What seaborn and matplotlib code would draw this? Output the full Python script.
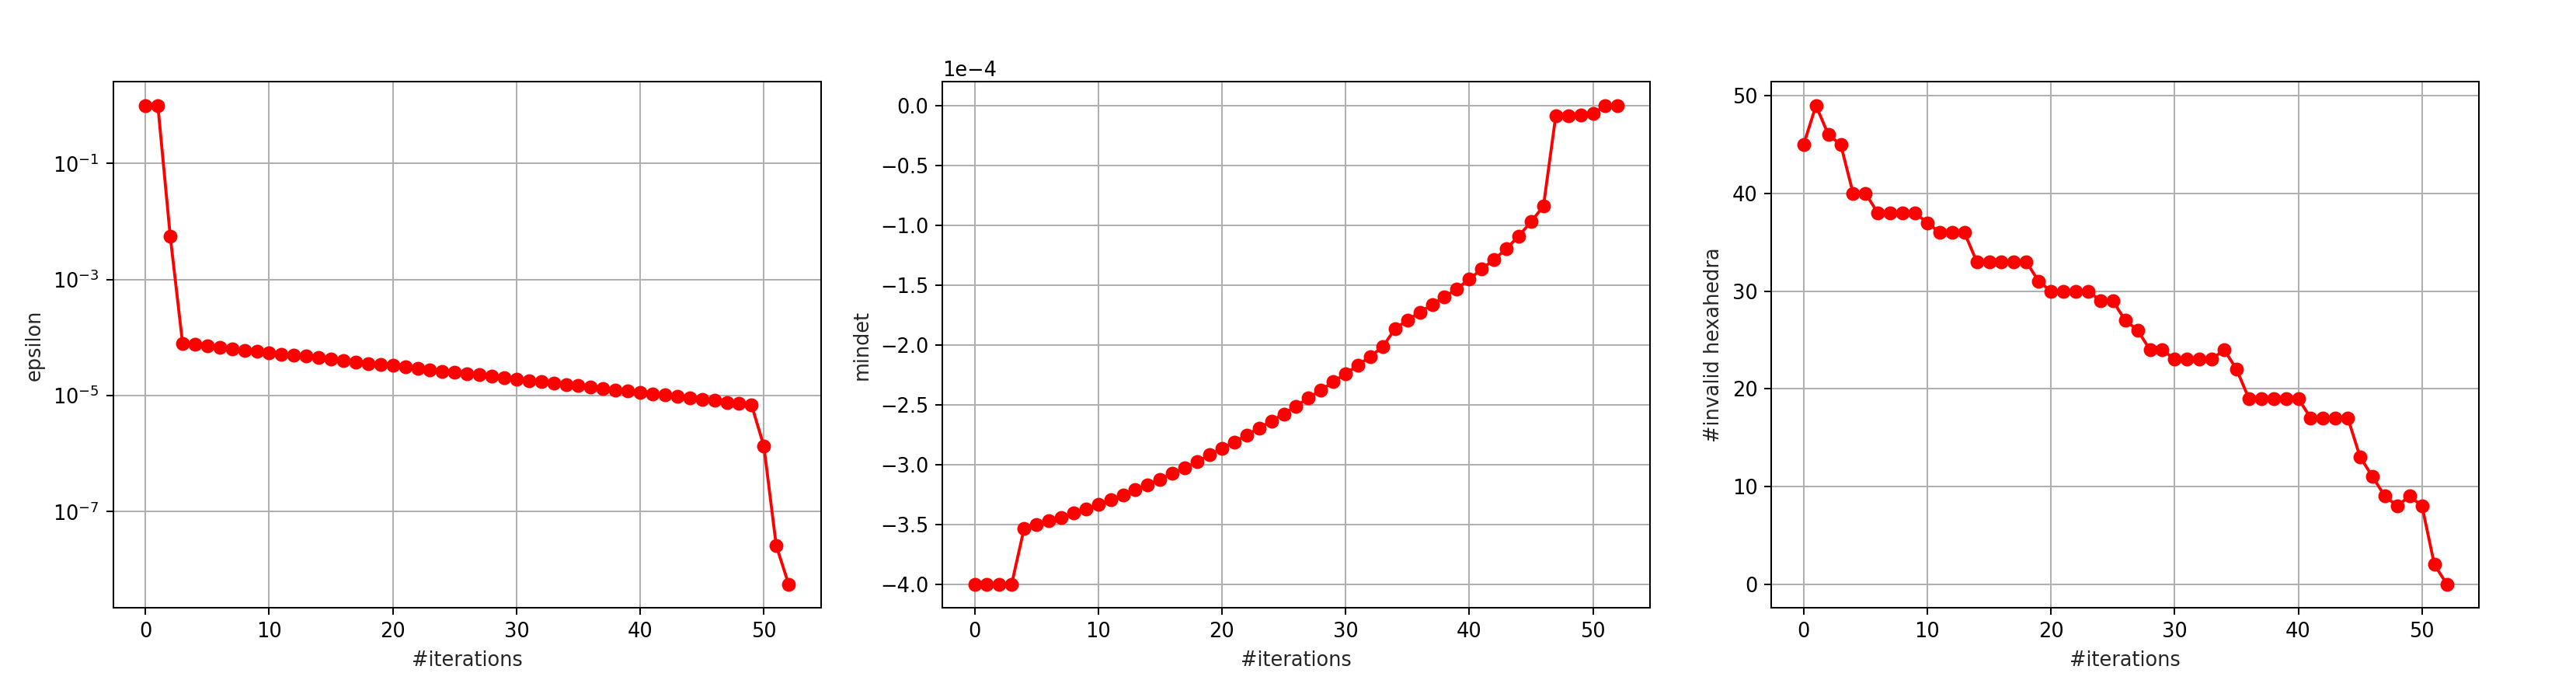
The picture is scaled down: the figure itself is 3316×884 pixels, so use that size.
import numpy as np
import pandas as pd
import matplotlib
matplotlib.use("Agg")
import matplotlib.pyplot as plt
import matplotlib.ticker as mticker
import seaborn as sns

# values
iterations = list(range(53))

epsilon = [
    0.99, 1.0, 5.57e-3, 7.87e-5, 7.65e-5, 7.13e-5, 6.74e-5, 6.37e-5, 6.02e-5, 5.77e-5,
    5.45e-5, 5.15e-5, 4.93e-5, 4.73e-5, 4.47e-5, 4.22e-5, 3.99e-5, 3.77e-5, 3.56e-5, 3.42e-5,
    3.28e-5, 3.10e-5, 2.93e-5, 2.76e-5, 2.61e-5, 2.47e-5, 2.37e-5, 2.30e-5, 2.14e-5, 2.02e-5,
    1.91e-5, 1.81e-5, 1.71e-5, 1.64e-5, 1.55e-5, 1.48e-5, 1.40e-5, 1.32e-5, 1.23e-5, 1.18e-5,
    1.12e-5, 1.06e-5, 1.01e-5, 9.70e-6, 9.04e-6, 8.55e-6, 8.19e-6, 7.64e-6, 7.31e-6, 6.90e-6,
    1.34e-6, 2.58e-8, 5.58e-9,
]

mindet = [
    -4.0, -4.0, -4.0, -4.0, -3.538, -3.502, -3.472, -3.443, -3.407, -3.374,
    -3.335, -3.297, -3.255, -3.213, -3.171, -3.124, -3.076, -3.031, -2.978, -2.921,
    -2.867, -2.814, -2.754, -2.697, -2.638, -2.578, -2.513, -2.444, -2.379, -2.310,
    -2.241, -2.172, -2.098, -2.018, -1.866, -1.794, -1.729, -1.663, -1.601, -1.532,
    -1.452, -1.368, -1.288, -1.198, -1.091, -0.972, -0.841, -0.083, -0.083, -0.077,
    -0.069, 0.0, 0.0,
]
mindet = [v * 1e-4 for v in mindet]

invalid_hex = [
    45, 49, 46, 45, 40, 40, 38, 38, 38, 38,
    37, 36, 36, 36, 33, 33, 33, 33, 33, 31,
    30, 30, 30, 30, 29, 29, 27, 26, 24, 24,
    23, 23, 23, 23, 24, 22, 19, 19, 19, 19,
    19, 17, 17, 17, 17, 13, 11, 9, 8, 9,
    8, 2, 0,
]

epsilon_ticks = [1e-1, 1e-3, 1e-5, 1e-7]

df = pd.DataFrame({
    "iteration": iterations,
    "epsilon": epsilon,
    "mindet": mindet,
    "invalid": invalid_hex,
})

sns.set_theme(style="ticks", rc={
    "axes.edgecolor": "black",
    "axes.linewidth": 0.8,
    "grid.color": "#b0b0b0",
    "grid.linewidth": 0.8,
    "xtick.color": "black",
    "ytick.color": "black",
    "xtick.major.size": 3.5,
    "ytick.major.size": 3.5,
    "xtick.major.width": 0.8,
    "ytick.major.width": 0.8,
    "font.size": 10,
    "axes.labelsize": 10,
    "xtick.labelsize": 10,
    "ytick.labelsize": 10,
})
plt.rcParams["font.family"] = ["DejaVu Sans"]

dpi = 3316 / 18
fig, axes = plt.subplots(1, 3, figsize=(18, 4.8), dpi=dpi)
fig.subplots_adjust(left=0.044, right=0.9623, bottom=0.115, top=0.881, wspace=0.172)

panels = [("epsilon", "epsilon"), ("mindet", "mindet"), ("invalid", "#invalid hexahedra")]
for ax, (col, label) in zip(axes, panels):
    sns.lineplot(data=df, x="iteration", y=col, ax=ax, color="red", linewidth=1.5,
                 marker="o", markersize=6, markeredgewidth=1.0,
                 markeredgecolor="red", markerfacecolor="red")
    ax.set_xlabel("#iterations")
    ax.set_ylabel(label)
    ax.grid(True)

axes[0].set_yscale("log")
axes[0].set_yticks(epsilon_ticks)
axes[0].yaxis.set_minor_locator(mticker.NullLocator())

axes[1].yaxis.set_major_locator(mticker.MultipleLocator(0.5e-4))
axes[1].ticklabel_format(axis="y", style="sci", scilimits=(-3, 3))

fig.savefig("out.png", dpi=dpi)
